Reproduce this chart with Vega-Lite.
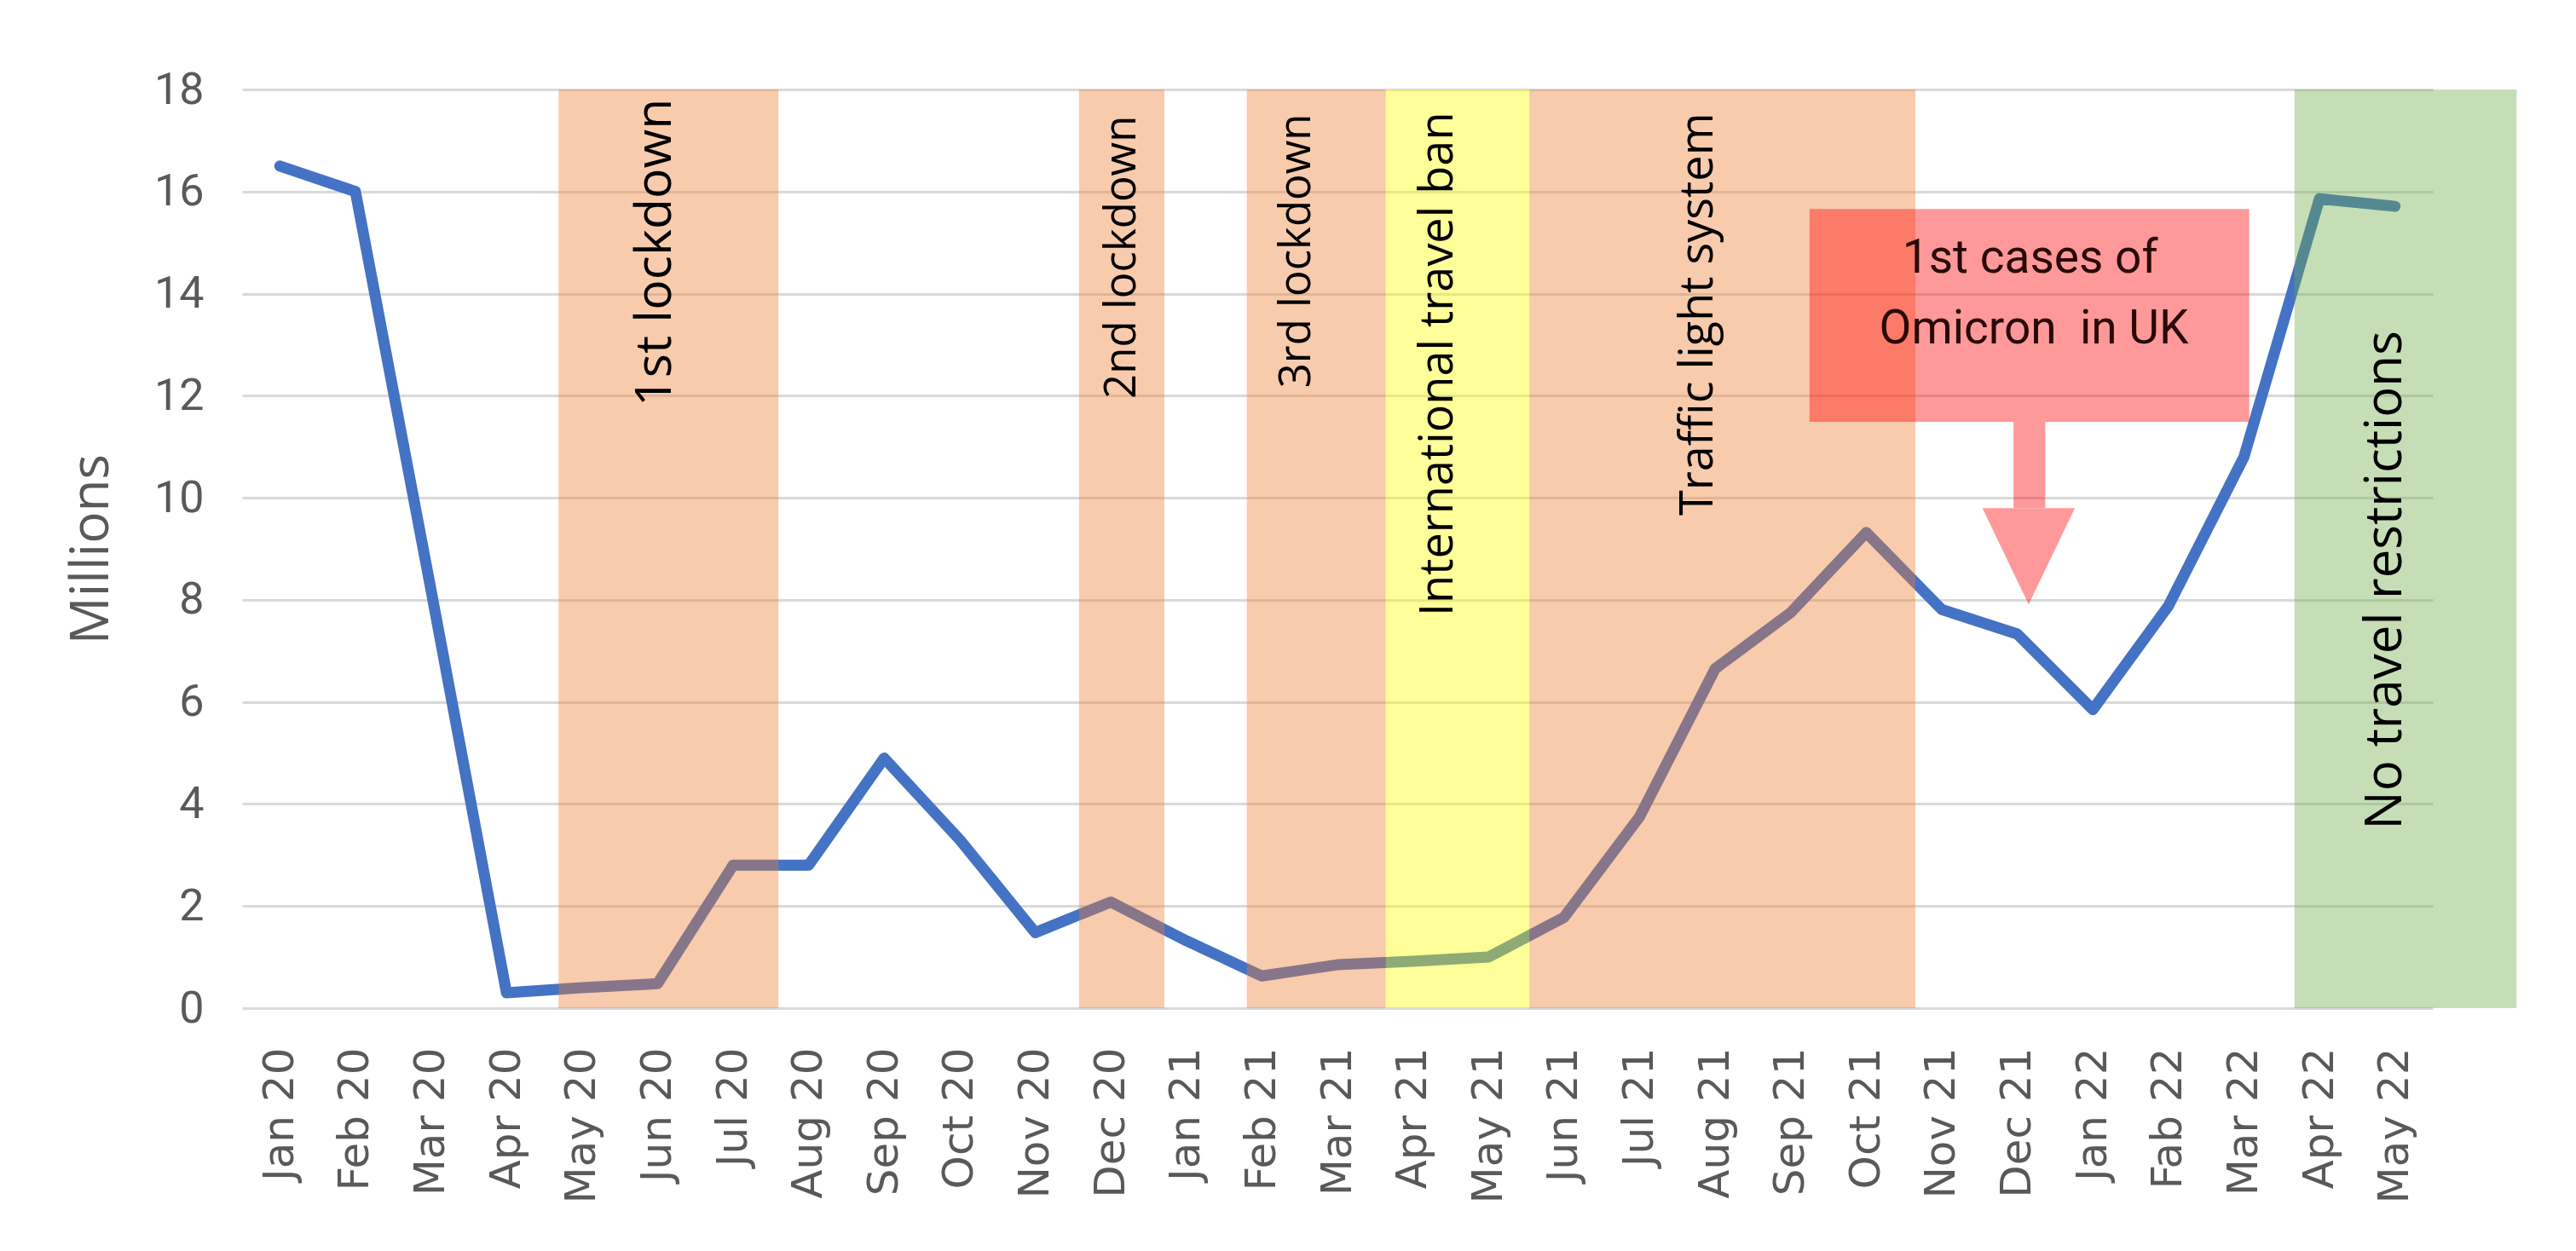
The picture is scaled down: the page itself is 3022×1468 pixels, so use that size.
{
  "$schema": "https://vega.github.io/schema/vega-lite/v6.json",
  "width": 2570,
  "height": 1078,
  "autosize": "none",
  "padding": {"left": 284, "top": 105, "right": 168, "bottom": 285},
  "background": "white",
  "config": {"view": {"stroke": null}},
  "datasets": {
    "traffic": [
      {"month": "Jan 20", "value": 16.5},
      {"month": "Feb 20", "value": 16.0},
      {"month": "Mar 20", "value": 8.2},
      {"month": "Apr 20", "value": 0.3},
      {"month": "May 20", "value": 0.4},
      {"month": "Jun 20", "value": 0.48},
      {"month": "Jul 20", "value": 2.8},
      {"month": "Aug 20", "value": 2.8},
      {"month": "Sep 20", "value": 4.9},
      {"month": "Oct 20", "value": 3.3},
      {"month": "Nov 20", "value": 1.48},
      {"month": "Dec 20", "value": 2.08},
      {"month": "Jan 21", "value": 1.32},
      {"month": "Feb 21", "value": 0.63},
      {"month": "Mar 21", "value": 0.85},
      {"month": "Apr 21", "value": 0.92},
      {"month": "May 21", "value": 1.0},
      {"month": "Jun 21", "value": 1.78},
      {"month": "Jul 21", "value": 3.75},
      {"month": "Aug 21", "value": 6.65},
      {"month": "Sep 21", "value": 7.75},
      {"month": "Oct 21", "value": 9.32},
      {"month": "Nov 21", "value": 7.81},
      {"month": "Dec 21", "value": 7.33},
      {"month": "Jan 22", "value": 5.85},
      {"month": "Fab 22", "value": 7.88},
      {"month": "Mar 22", "value": 10.8},
      {"month": "Apr 22", "value": 15.86},
      {"month": "May 22", "value": 15.71}
    ],
    "bands": [
      {"event": "1st lockdown", "kind": "restriction", "start": 3.69, "end": 6.6},
      {"event": "2nd lockdown", "kind": "restriction", "start": 10.58, "end": 11.71},
      {"event": "3rd lockdown", "kind": "restriction", "start": 12.8, "end": 14.64},
      {"event": "International travel ban", "kind": "travel ban", "start": 14.64, "end": 16.54},
      {"event": "Traffic light system", "kind": "restriction", "start": 16.54, "end": 21.65},
      {"event": "No travel restrictions", "kind": "open", "start": 26.67, "end": 29.61}
    ],
    "notes": [
      {"text": "1st lockdown", "at": 5.18, "from": 11.79},
      {"text": "2nd lockdown", "at": 11.33, "from": 11.94},
      {"text": "3rd lockdown", "at": 13.64, "from": 12.15},
      {"text": "International travel ban", "at": 15.52, "from": 7.68},
      {"text": "Traffic light system", "at": 18.97, "from": 9.65},
      {"text": "No travel restrictions", "at": 28.08, "from": 3.5}
    ],
    "callout": [
      {"part": "box", "x1": 20.25, "x2": 26.07, "y1": 11.49, "y2": 15.66},
      {"part": "shaft", "x1": 22.95, "x2": 23.37, "y1": 9.8, "y2": 11.49}
    ],
    "arrowhead": [
      {"at": 23.15, "level": 8.855}
    ],
    "callouttext": [
      {"text": "1st cases of", "at": 23.17, "level": 14.41},
      {"text": "Omicron\u00a0 in UK", "at": 23.22, "level": 13.02}
    ]
  },
  "resolve": {"scale": {"x": "independent"}},
  "layer": [
    {
      "data": {"name": "traffic"},
      "mark": {"type": "line", "color": "#4472C4", "strokeWidth": 13, "strokeJoin": "round", "strokeCap": "round"},
      "encoding": {
        "x": {
          "field": "month", "type": "nominal", "sort": null,
          "scale": {"type": "point", "padding": 0.5},
          "axis": {
            "title": null, "labelAngle": -90, "labelFont": "DejaVu Sans", "labelFontSize": 50,
            "labelColor": "#595959", "labelPadding": 46, "labelLimit": 0, "ticks": false, "domain": false, "grid": false
          }
        },
        "y": {
          "field": "value", "type": "quantitative",
          "scale": {"domain": [0, 18], "nice": false, "zero": true},
          "axis": {
            "title": "Millions", "values": [0, 2, 4, 6, 8, 10, 12, 14, 16, 18], "format": "d",
            "grid": true, "gridColor": "#D9D9D9", "gridWidth": 3,
            "domain": false, "ticks": false,
            "labelFont": "Roboto", "labelFontSize": 52, "labelColor": "#595959", "labelPadding": 45,
            "titleFont": "Open Sans", "titleFontSize": 62, "titleColor": "#595959", "titleFontWeight": "normal",
            "titleAngle": -90, "titleX": -158, "titleY": 539, "titleAlign": "center", "titleBaseline": "alphabetic"
          }
        }
      }
    },
    {
      "data": {"name": "bands"},
      "mark": {"type": "rect", "opacity": 0.4},
      "encoding": {
        "x": {"field": "start", "type": "quantitative", "scale": {"domain": [-0.5, 28.5], "nice": false, "zero": false}, "axis": null},
        "x2": {"field": "end"},
        "y": {"datum": 0},
        "y2": {"datum": 18},
        "color": {
          "field": "kind", "type": "nominal",
          "scale": {"domain": ["restriction", "travel ban", "open"], "range": ["#ED7D31", "#FFFF00", "#70AD47"]},
          "legend": null
        }
      }
    },
    {
      "data": {"name": "callout"},
      "mark": {"type": "rect", "color": "#FF0000", "opacity": 0.4},
      "encoding": {
        "x": {"field": "x1", "type": "quantitative", "scale": {"domain": [-0.5, 28.5], "nice": false, "zero": false}, "axis": null},
        "x2": {"field": "x2"},
        "y": {"field": "y1", "type": "quantitative"},
        "y2": {"field": "y2"}
      }
    },
    {
      "data": {"name": "arrowhead"},
      "mark": {"type": "point", "shape": "M -0.96 -1 L 0.96 -1 L 0 1 Z", "size": 12769, "filled": true, "color": "#FF0000", "opacity": 0.4, "strokeWidth": 0},
      "encoding": {
        "x": {"field": "at", "type": "quantitative", "scale": {"domain": [-0.5, 28.5], "nice": false, "zero": false}, "axis": null},
        "y": {"field": "level", "type": "quantitative"}
      }
    },
    {
      "data": {"name": "notes"},
      "transform": [{"filter": {"field": "text", "oneOf": ["1st lockdown"]}}],
      "mark": {"type": "text", "angle": -90, "align": "left", "baseline": "alphabetic", "font": "Open Sans", "fontSize": 59, "color": "#000000"},
      "encoding": {
        "x": {"field": "at", "type": "quantitative", "scale": {"domain": [-0.5, 28.5], "nice": false, "zero": false}, "axis": null},
        "y": {"field": "from", "type": "quantitative"},
        "text": {"field": "text"}
      }
    },
    {
      "data": {"name": "notes"},
      "transform": [{"filter": {"field": "text", "oneOf": ["2nd lockdown", "3rd lockdown"]}}],
      "mark": {"type": "text", "angle": -90, "align": "left", "baseline": "alphabetic", "font": "Open Sans", "fontSize": 51, "color": "#000000"},
      "encoding": {
        "x": {"field": "at", "type": "quantitative", "scale": {"domain": [-0.5, 28.5], "nice": false, "zero": false}, "axis": null},
        "y": {"field": "from", "type": "quantitative"},
        "text": {"field": "text"}
      }
    },
    {
      "data": {"name": "notes"},
      "transform": [{"filter": {"field": "text", "oneOf": ["International travel ban", "Traffic light system"]}}],
      "mark": {"type": "text", "angle": -90, "align": "left", "baseline": "alphabetic", "font": "Open Sans", "fontSize": 54, "color": "#000000"},
      "encoding": {
        "x": {"field": "at", "type": "quantitative", "scale": {"domain": [-0.5, 28.5], "nice": false, "zero": false}, "axis": null},
        "y": {"field": "from", "type": "quantitative"},
        "text": {"field": "text"}
      }
    },
    {
      "data": {"name": "notes"},
      "transform": [{"filter": {"field": "text", "oneOf": ["No travel restrictions"]}}],
      "mark": {"type": "text", "angle": -90, "align": "left", "baseline": "alphabetic", "font": "Open Sans", "fontSize": 60, "color": "#000000"},
      "encoding": {
        "x": {"field": "at", "type": "quantitative", "scale": {"domain": [-0.5, 28.5], "nice": false, "zero": false}, "axis": null},
        "y": {"field": "from", "type": "quantitative"},
        "text": {"field": "text"}
      }
    },
    {
      "data": {"name": "callouttext"},
      "mark": {"type": "text", "align": "center", "baseline": "alphabetic", "font": "Liberation Sans Narrow, Roboto", "fontSize": 55, "color": "#2a0808"},
      "encoding": {
        "x": {"field": "at", "type": "quantitative", "scale": {"domain": [-0.5, 28.5], "nice": false, "zero": false}, "axis": null},
        "y": {"field": "level", "type": "quantitative"},
        "text": {"field": "text"}
      }
    }
  ]
}
